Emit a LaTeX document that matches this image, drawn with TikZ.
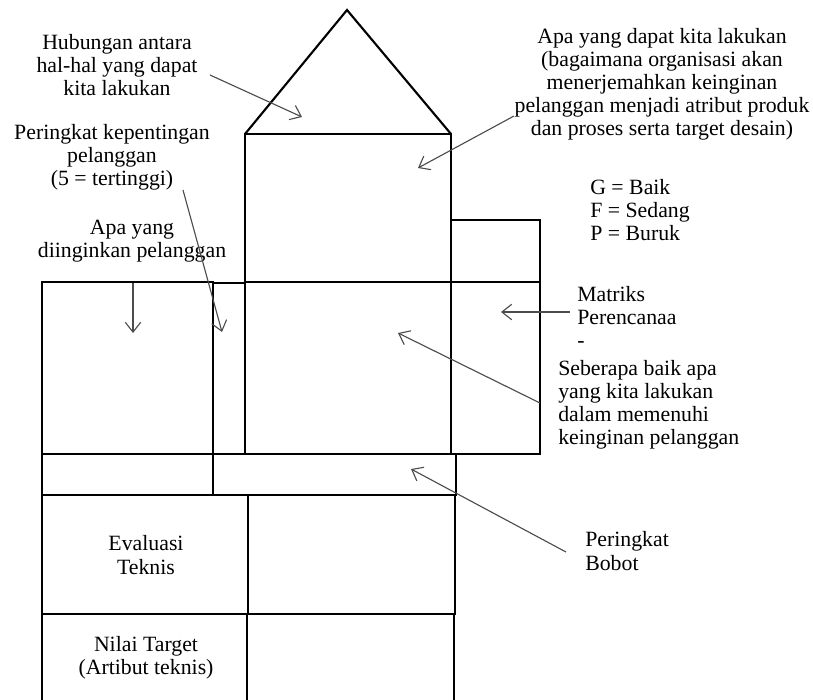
\documentclass[tikz,border=0pt]{standalone}
\usepackage{fontspec}
\setmainfont{Liberation Serif}
\usetikzlibrary{arrows.meta}

\begin{document}
\begin{tikzpicture}[x=0.025cm,y=-0.025cm,
		box/.style={draw,line width=1.5pt},
		note/.style={align=center,font=\fontsize{15.5}{16.4}\selectfont,inner sep=0pt},
		pointer/.style={draw=black!70,line width=0.8pt,-{Straight Barb[length=7pt,width=11pt]}}]
	\useasboundingbox (0,0) rectangle (813,699);

		\draw [box] (245,134) -- (347,10) -- (451,134);
		\draw [box] (245,134) rectangle (451,282);
		\draw [box] (451,220) rectangle (540,282);
		\draw [box] (42,282) rectangle (213,454);
		\draw [box] (213,283) rectangle (245,454);
		\draw [box] (245,282) rectangle (451,454);
		\draw [box] (451,282) rectangle (540,454);
		\draw [box] (42,454) rectangle (213,495);
		\draw [box] (213,454) rectangle (456,495);
		\draw [box] (42,495) rectangle (248,614);
		\draw [box] (248,495) rectangle (455,614);
		\draw [box] (42,705) -- (42,614) -- (454,614) -- (454,705);
		\draw [box] (247,614) -- (247,705);

		\node [note] (hub) at (117,65) {Hubungan antara\\hal-hal yang dapat\\kita lakukan};
		\node [note] (hows) at (662,84) {Apa yang dapat kita lakukan\\(bagaimana organisasi akan\\menerjemahkan keinginan\\pelanggan menjadi atribut produk\\dan proses serta target desain)};
		\node [note] (rank) at (112,157) {Peringkat kepentingan\\pelanggan\\(5 = tertinggi)};
		\node [note] (wants) at (132,241) {Apa yang\\diinginkan pelanggan};
		\node [note,align=left,anchor=west] (legend) at (590,210) {G = Baik\\F = Sedang\\P = Buruk};
		\node [note,align=left,anchor=west] (plan) at (577,317) {Matriks\\Perencanaa\\-};
		\node [note,align=left,anchor=west] (how) at (558,405) {Seberapa baik apa\\yang kita lakukan\\dalam memenuhi\\keinginan pelanggan};
		\node [note,align=left,anchor=west] (weight) at (585,551) {Peringkat\\Bobot};
		\node [note] (eval) at (146,555) {Evaluasi\\Teknis};
		\node [note] (target) at (146,658) {Nilai Target\\(Artibut teknis)};

		\coordinate (hub-tail) at (210,75);
		\coordinate (hub-head) at (302,117);
		\coordinate (hows-tail) at (514,116);
		\coordinate (hows-head) at (418,168);
		\coordinate (rank-tail) at (183,190);
		\coordinate (rank-head) at (222,332);
		\coordinate (wants-tail) at (133,283);
		\coordinate (wants-head) at (133,333);
		\coordinate (plan-tail) at (570,312);
		\coordinate (plan-head) at (501,312);
		\coordinate (how-tail) at (540,403);
		\coordinate (how-head) at (398,333);
		\coordinate (weight-tail) at (566,552);
		\coordinate (weight-head) at (411,469);

		\draw [pointer] (hub-tail) -- (hub-head);
		\draw [pointer] (hows-tail) -- (hows-head);
		\draw [pointer] (rank-tail) -- (rank-head);
		\draw [pointer] (wants-tail) -- (wants-head);
		\draw [pointer] (plan-tail) -- (plan-head);
		\draw [pointer] (how-tail) -- (how-head);
		\draw [pointer] (weight-tail) -- (weight-head);
	\end{tikzpicture}
\end{document}
